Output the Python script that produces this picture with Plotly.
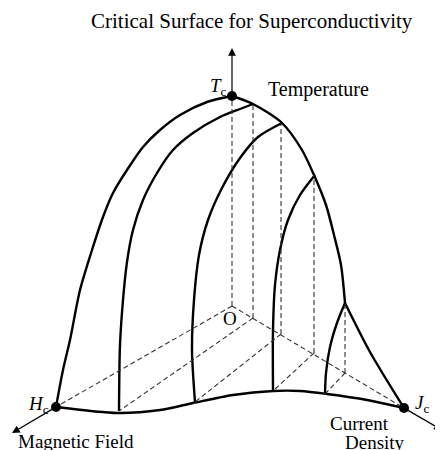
import plotly.graph_objects as go

# ---- data (diagram coordinates, pixels, y downward) ----
origin = [232, 306]
tc_pt = [232, 96]
hc_pt = [56, 407]
jc_pt = [404, 408]

outer_left_x = [56, 63, 70, 80, 92, 103, 113, 127, 143, 160, 180, 207, 232]
outer_left_y = [407, 370, 340, 290, 250, 217, 193, 170, 147, 130, 115, 102, 96]

outer_right_x = [232, 253, 282, 302, 314, 326, 334, 341, 345]
outer_right_y = [96, 104, 123, 150, 175, 205, 235, 265, 303]

outer_tail_x = [345, 370, 404]
outer_tail_y = [303, 352, 408]

arch2_x = [253, 240, 220, 193, 173, 157, 143, 133, 127, 123, 120, 119]
arch2_y = [104, 109, 117, 133, 150, 173, 200, 230, 262, 300, 345, 411]

arch3_x = [282, 258, 240, 222, 208, 199, 194, 192, 195]
arch3_y = [123, 137, 158, 188, 220, 255, 300, 350, 402]

arch4_x = [315, 300, 288, 280, 275, 273, 273]
arch4_y = [175, 195, 220, 250, 285, 330, 391]

arch5_x = [345, 337, 330, 326, 325]
arch5_y = [303, 323, 347, 373, 394]

bottom_x = [56, 118, 160, 193, 233, 273, 300, 327, 367, 404]
bottom_y = [407, 413, 410, 403, 395, 391, 391, 394, 400, 408]

# points on the current-density axis below each arch top
jmark_x = [253, 281, 314, 345]
jmark_y = [318, 334, 353, 373]
arch_top_y = [104, 123, 175, 303]
arch_bottom_x = [119, 195, 273, 325]
arch_bottom_y = [411, 402, 391, 394]

t_arrow_tip = [232, 48]
h_arrow_tip = [12, 433]
j_arrow_tip = [442, 430]

title = "Critical Surface for Superconductivity"

FONT = "Liberation Serif"
PAGE_OFFSET = 8  # default body margin of the html page
fig = go.Figure()

solid = dict(color="black", width=2.4, shape="spline", smoothing=0.8)
for xs, ys in [(outer_left_x, outer_left_y), (outer_right_x, outer_right_y),
               (outer_tail_x, outer_tail_y), (arch2_x, arch2_y), (arch3_x, arch3_y),
               (arch4_x, arch4_y), (arch5_x, arch5_y), (bottom_x, bottom_y)]:
    fig.add_trace(go.Scatter(x=xs, y=ys, mode="lines", line=solid, hoverinfo="skip"))

# dashed construction lines
dx, dy = [], []
for p in (hc_pt, jc_pt, tc_pt):
    dx += [origin[0], p[0], None]
    dy += [origin[1], p[1], None]
for jx, jy, ty, bx, by in zip(jmark_x, jmark_y, arch_top_y, arch_bottom_x, arch_bottom_y):
    dx += [jx, jx, None, jx, bx, None]
    dy += [jy, ty, None, jy, by, None]
fig.add_trace(go.Scatter(x=dx, y=dy, mode="lines",
                         line=dict(color="#333", width=1.1, dash="5px,3px"),
                         hoverinfo="skip"))

# critical points
fig.add_trace(go.Scatter(x=[tc_pt[0], hc_pt[0], jc_pt[0]], y=[tc_pt[1], hc_pt[1], jc_pt[1]],
                         mode="markers", marker=dict(color="black", size=10),
                         hoverinfo="skip"))

# axis arrows
for start, tip in [(tc_pt, t_arrow_tip), (hc_pt, h_arrow_tip), (jc_pt, j_arrow_tip)]:
    fig.add_annotation(x=tip[0], y=tip[1], ax=start[0], ay=start[1],
                       xref="x", yref="y", axref="x", ayref="y", text="",
                       showarrow=True, arrowhead=2, arrowsize=1.3, arrowwidth=1.2,
                       arrowcolor="black")

def label(txt, x, y, size=19):
    fig.add_annotation(x=x, y=y, xref="x", yref="y", text=txt, showarrow=False,
                       font=dict(family=FONT, size=size, color="black"))

label(title, 252, 21, 21)
label("Temperature", 318, 89, 20)
label("<i>T</i><sub>c</sub>", 218, 87)
label("<i>H</i><sub>c</sub>", 38, 405)
label("<i>J</i><sub>c</sub>", 422, 404)
label("O", 230, 318)
label("Magnetic Field", 76, 441)
label("Current", 359, 423)
label("Density", 375, 442)

fig.update_layout(width=443 - PAGE_OFFSET, height=450 - PAGE_OFFSET, autosize=False,
                  margin=dict(l=0, r=0, t=0, b=0),
                  paper_bgcolor="white", plot_bgcolor="white", showlegend=False,
                  xaxis=dict(range=[PAGE_OFFSET, 443], visible=False, fixedrange=True),
                  yaxis=dict(range=[450, PAGE_OFFSET], visible=False, fixedrange=True))

fig.write_html("out.html", config={"displayModeBar": False})
